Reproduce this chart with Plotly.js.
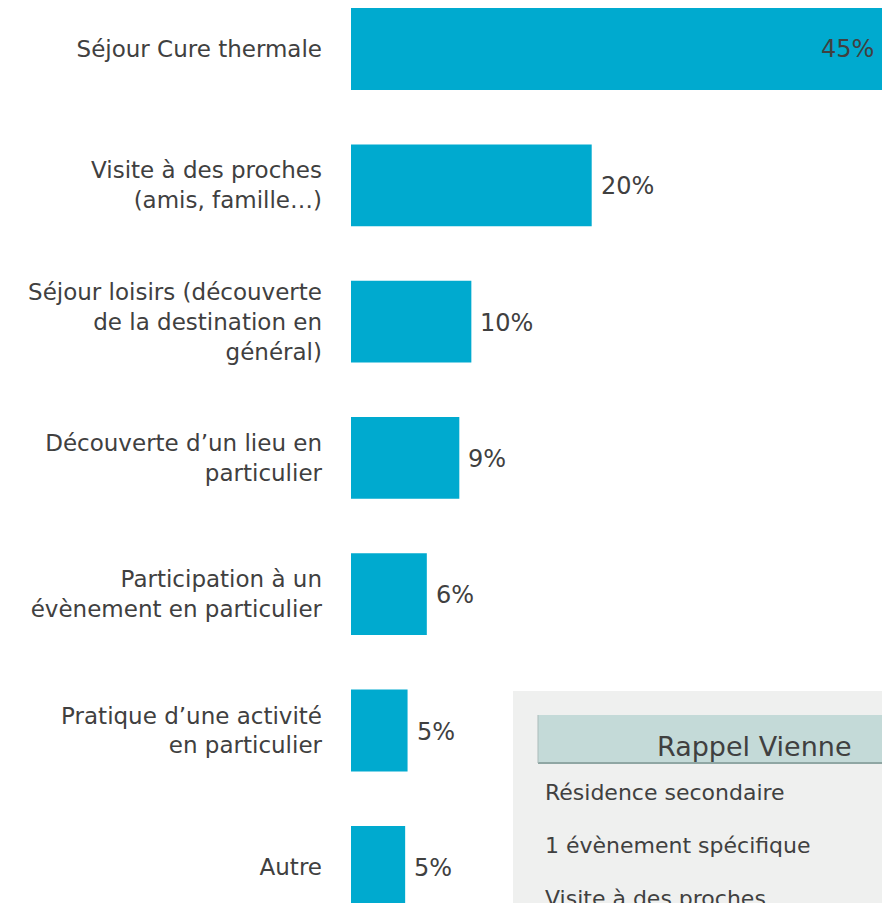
<!DOCTYPE html>
<html>
<head>
<meta charset="utf-8">
<script src="https://cdn.plot.ly/plotly-3.0.1.min.js"></script>
<style>html,body{margin:0;padding:0;background:#fff;}#chart{width:882px;height:903px;}</style>
</head>
<body>
<div id="chart"></div>
<script>
// Data
const categories = [
  "Séjour Cure thermale",
  "Visite à des proches<br>(amis, famille…)",
  "Séjour loisirs (découverte<br>de la destination en<br>général)",
  "Découverte d’un lieu en<br>particulier",
  "Participation à un<br>évènement en particulier",
  "Pratique d’une activité<br>en particulier",
  "Autre"
];
const values = [45, 20, 10, 9, 6.3, 4.7, 4.5];
const valueLabels = ["45%", "20%", "10%", "9%", "6%", "5%", "5%"];
const boxTitle = "Rappel Vienne";
const boxRows = ["Résidence secondaire", "1 évènement spécifique", "Visite à des proches"];

const W = 882, H = 903, L = 351;
const FONT = "DejaVu Sans, Verdana, sans-serif";
const TXT = "#404040";
const px = x => (x - L) / (W - L);
const py = y => 1 - y / H;

// first bar label drawn inside (bar overflows the view), others outside
const textpos = values.map((v, i) => i === 0 ? "inside" : "none");
const barText = valueLabels.map((t, i) => i === 0 ? t + "\u00a0\u00a0" : "");

const trace = {
  type: "bar",
  orientation: "h",
  y: categories,
  x: values,
  width: 0.6,
  marker: { color: "#00aacf" },
  text: barText,
  textposition: textpos,
  insidetextanchor: "end",
  insidetextfont: { family: FONT, size: 24, color: TXT },
  cliponaxis: true,
  hoverinfo: "skip"
};

const annotations = [];
values.forEach((v, i) => {
  if (i === 0) return;
  annotations.push({
    x: v, y: categories[i], xref: "x", yref: "y",
    text: valueLabels[i], showarrow: false,
    xanchor: "left", yanchor: "middle", xshift: 7, yshift: -1,
    font: { family: FONT, size: 24, color: TXT }
  });
});
annotations.push({
  x: px(655), y: py(746), xref: "paper", yref: "paper",
  text: boxTitle, showarrow: false, xanchor: "left", yanchor: "middle",
  font: { family: FONT, size: 27, color: TXT }
});
const rowY = [792, 845, 898];
boxRows.forEach((r, i) => {
  annotations.push({
    x: px(543), y: py(rowY[i]), xref: "paper", yref: "paper",
    text: r, showarrow: false, xanchor: "left", yanchor: "middle",
    font: { family: FONT, size: 22, color: TXT }
  });
});

const shapes = [
  { type: "rect", xref: "paper", yref: "paper", x0: px(513), x1: 1.1, y0: -0.1, y1: py(691),
    fillcolor: "#eff0ef", line: { width: 0 }, layer: "above" },
  { type: "rect", xref: "paper", yref: "paper", x0: px(538), x1: 1.1, y0: py(763), y1: py(715),
    fillcolor: "#c4dad8", line: { width: 0 }, layer: "above" },
  { type: "line", xref: "paper", yref: "paper", x0: px(538), x1: 1.1, y0: py(763), y1: py(763),
    line: { color: "#8fa6a3", width: 2 }, layer: "above" },
  { type: "line", xref: "paper", yref: "paper", x0: px(538), x1: px(538), y0: py(763), y1: py(715),
    line: { color: "#aabbb9", width: 1 }, layer: "above" }
];

// category axis positioning: first bar centered at y=49, pitch 136.3 px
const pitch = 136.3, c0 = 49;
const yTop = -c0 / pitch, yBot = yTop + H / pitch;

const layout = {
  width: W, height: H,
  margin: { l: L, r: 0, t: 0, b: 0, pad: 0 },
  paper_bgcolor: "#ffffff",
  plot_bgcolor: "#ffffff",
  showlegend: false,
  xaxis: { range: [0, (W - L) / 12.035], visible: false, fixedrange: true },
  yaxis: {
    type: "category",
    range: [yBot, yTop],
    showgrid: false, zeroline: false, showline: false,
    ticks: "", ticklabelstandoff: 28,
    tickfont: { family: FONT, size: 23, color: TXT },
    fixedrange: true
  },
  annotations: annotations,
  shapes: shapes
};

Plotly.newPlot("chart", [trace], layout, { displayModeBar: false, staticPlot: true });
</script>
</body>
</html>
